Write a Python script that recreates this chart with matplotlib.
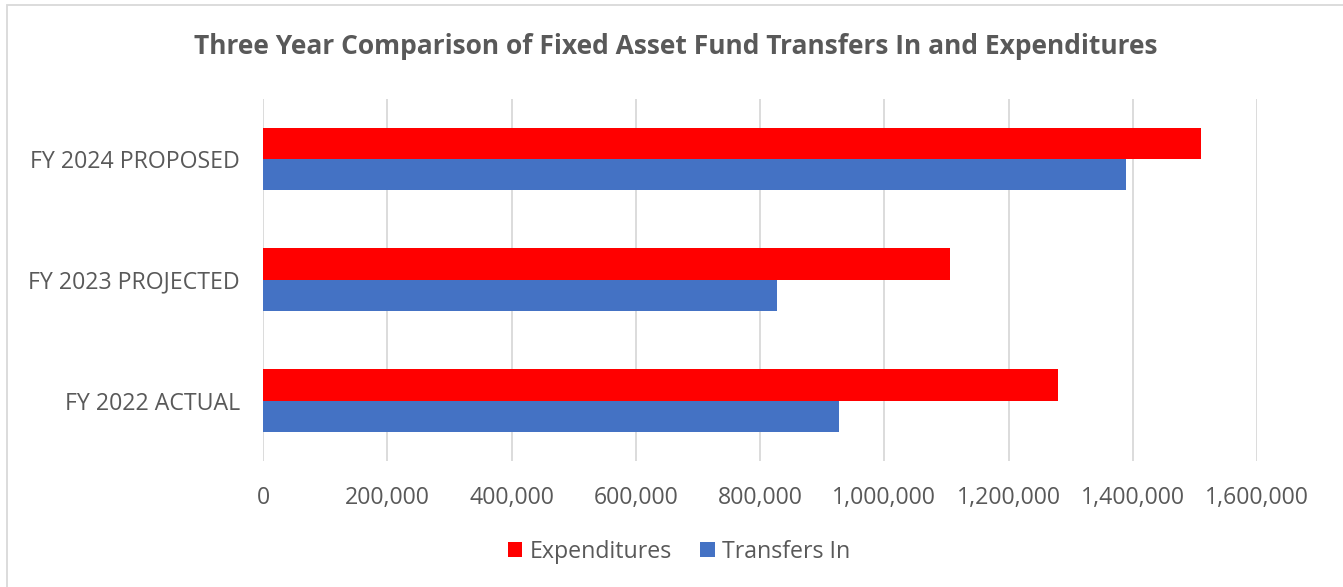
import numpy as np
import matplotlib.pyplot as plt
from matplotlib.patches import Rectangle
from matplotlib.ticker import FuncFormatter

categories = ['FY 2022 ACTUAL', 'FY 2023 PROJECTED', 'FY 2024 PROPOSED']
expenditures = [1280000, 1106000, 1510000]
transfers_in = [927000, 828000, 1389000]

plt.rcParams['font.family'] = ['Open Sans', 'DejaVu Sans']
txt = '#595959'

fig = plt.figure(figsize=(13.43, 5.87), dpi=100)
ax = fig.add_axes([263 / 1343, 1 - 461 / 587, 994 / 1343, 362.5 / 587])

y = np.arange(len(categories))
h = 0.26
ax.barh(y + h / 2, expenditures, height=h, color='#ff0000', label='Expenditures', zorder=3)
ax.barh(y - h / 2, transfers_in, height=h, color='#4472c4', label='Transfers In', zorder=3)

ax.set_xlim(0, 1600000)
ax.set_ylim(-0.5, 2.5)
ax.set_xticks(np.arange(0, 1600001, 200000))
ax.xaxis.set_major_formatter(FuncFormatter(lambda v, p: f'{int(v):,}'))
ax.set_yticks(y)
ax.set_yticklabels(categories)
ax.tick_params(length=0, labelsize=16.7, labelcolor=txt)
ax.tick_params(axis='x', pad=18)
ax.tick_params(axis='y', pad=16.5)
ax.grid(axis='x', color='#d9d9d9', linewidth=1.3, zorder=0)
for s in ax.spines.values():
    s.set_visible(False)

fig.text(676 / 1343, 1 - 46 / 587, 'Three Year Comparison of Fixed Asset Fund Transfers In and Expenditures',
         ha='center', va='center', fontsize=19, fontweight='bold', color=txt)

fig.legend(loc='center', bbox_to_anchor=(679 / 1343, 1 - 552 / 587), ncol=2, frameon=False,
           fontsize=16.7, labelcolor=txt, handlelength=0.62, handleheight=0.62,
           handletextpad=0.3, columnspacing=1.25)

# chart frame (cut off on the right and bottom in the reference)
fig.patches.append(Rectangle((7 / 1343, -0.05), 1.1, 1 - 5 / 587 + 0.05, transform=fig.transFigure,
                             fill=False, edgecolor='#d9d9d9', linewidth=1.3))

fig.savefig('out.png', dpi=100)
